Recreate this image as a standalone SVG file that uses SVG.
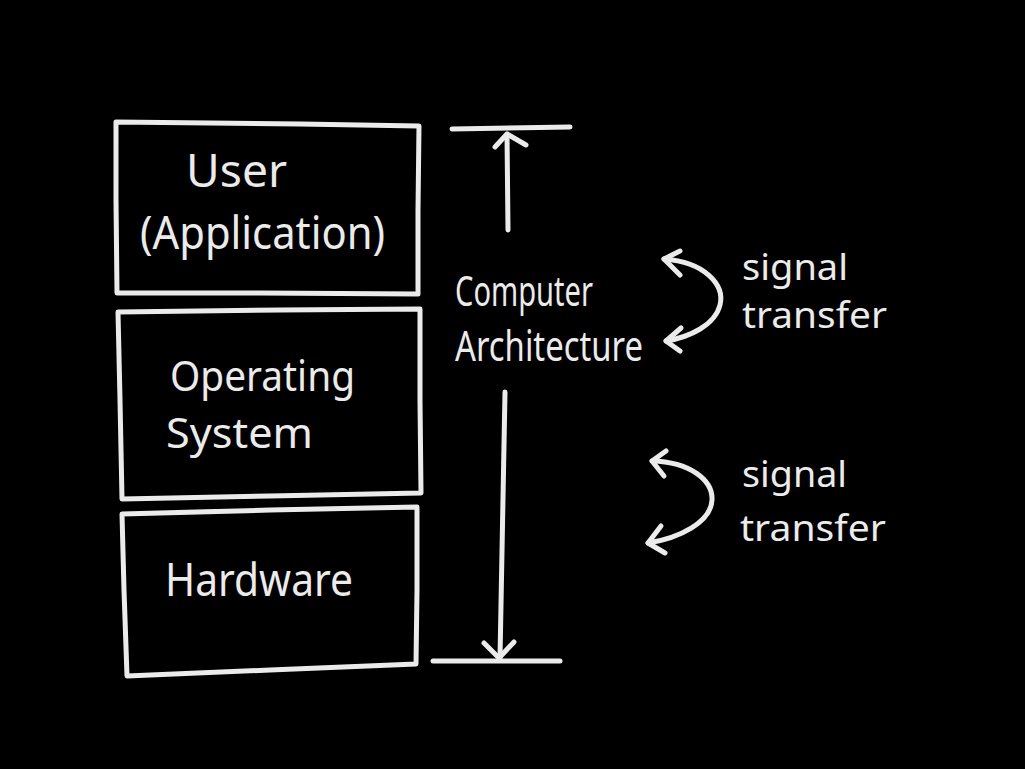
<svg xmlns="http://www.w3.org/2000/svg" width="1025" height="769" viewBox="0 0 1025 769">
<style>
.ln{fill:none;stroke:#ebebeb;stroke-width:5;stroke-linecap:round;stroke-linejoin:round}
.t{fill:#ebebeb;font-family:"Noto Sans","Liberation Sans",sans-serif;font-size:45px}
.o{fill:#ebebeb;font-family:"Noto Sans","Liberation Sans",sans-serif;font-size:41px}
.s{fill:#ebebeb;font-family:"Noto Sans","Liberation Sans",sans-serif;font-size:42px}
.g{fill:#ebebeb;font-family:"Noto Sans","Liberation Sans",sans-serif;font-size:37px}
</style>
<rect width="1025" height="769" fill="#000"/>
<g id="user">
<path class="ln" d="M116,122 L300,124 L419,126 L418,210 L418,294 L260,293 L117,293 L116,200 Z"/>
<text class="t" x="186" y="187" textLength="101" lengthAdjust="spacingAndGlyphs">User</text>
<text class="t" x="140" y="249" textLength="245" lengthAdjust="spacingAndGlyphs">(Application)</text>
</g>
<g id="os">
<path class="ln" d="M118,312 L280,310 L420,309 L420,400 L421,493 L270,496 L122,499 L120,400 Z"/>
<text class="o" x="170" y="391" textLength="185" lengthAdjust="spacingAndGlyphs">Operating</text>
<text class="o" x="166" y="448" textLength="147" lengthAdjust="spacingAndGlyphs">System</text>
</g>
<g id="hardware">
<path class="ln" d="M122,514 L270,510 L417,507 L417,590 L416,664 L270,670 L127,676 L124,590 Z"/>
<text class="t" x="165" y="596" textLength="188" lengthAdjust="spacingAndGlyphs">Hardware</text>
</g>
<g id="arch-label">
<text class="s" x="455" y="306" textLength="138" lengthAdjust="spacingAndGlyphs">Computer</text>
<text class="s" x="455" y="361" textLength="188" lengthAdjust="spacingAndGlyphs">Architecture</text>
</g>
<g id="signal1">
<text class="g" x="742" y="280" textLength="106" lengthAdjust="spacingAndGlyphs">signal</text>
<text class="g" x="742" y="328" textLength="145" lengthAdjust="spacingAndGlyphs">transfer</text>
</g>
<g id="signal2">
<text class="g" x="742" y="487" textLength="105" lengthAdjust="spacingAndGlyphs">signal</text>
<text class="g" x="740" y="541" textLength="146" lengthAdjust="spacingAndGlyphs">transfer</text>
</g>
<g id="connectors">
<path class="ln" d="M452,129 L570,127"/>
<path class="ln" d="M508,230 L507,134"/>
<path class="ln" d="M495,147 L507,134 L526,145"/>
<path class="ln" d="M433,661 L560,661"/>
<path class="ln" d="M505,392 L500,658"/>
<path class="ln" d="M484,643 L499,658 L514,642"/>
<path class="ln" d="M664,259 C705,262 725,285 720,305 C715,325 690,337 666,341"/>
<path class="ln" d="M680,251 L664,259 L680,275"/>
<path class="ln" d="M681,328 L666,341 L680,351"/>
<path class="ln" d="M652,461 C690,462 713,480 712,500 C711,522 680,538 648,543"/>
<path class="ln" d="M666,451 L652,461 L664,476"/>
<path class="ln" d="M661,526 L648,543 L665,553"/>
</g>
</svg>
